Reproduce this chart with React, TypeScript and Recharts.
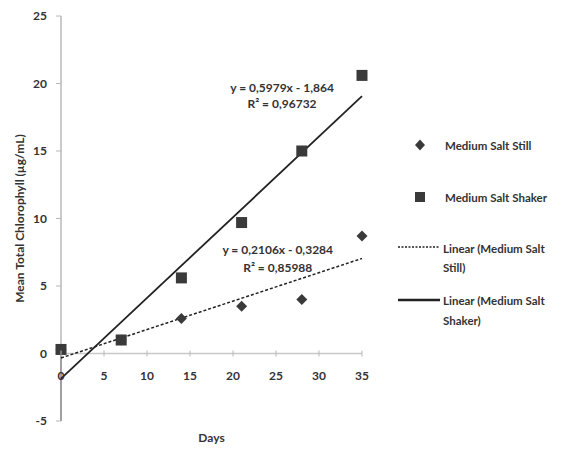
import {
  Legend,
  ReferenceDot,
  ReferenceLine,
  Scatter,
  ScatterChart,
  XAxis,
  YAxis,
} from "recharts";

const DAYS = [0, 7, 14, 21, 28, 35];
const STILL = [0.3, 1.0, 2.6, 3.5, 4.0, 8.7];
const SHAKER = [0.3, 1.0, 5.6, 9.7, 15.0, 20.6];

const TREND_DAYS = [0, 35];
const STILL_TREND = [-0.33, 7.04];
const SHAKER_TREND = [-1.86, 19.06];

const X_TICKS = [0, 5, 10, 15, 20, 25, 30, 35];
const Y_TICKS = [-5, 0, 5, 10, 15, 20, 25];

const SHAKER_EQ = ["y = 0,5979x - 1,864", "R² = 0,96732"];
const STILL_EQ = ["y = 0,2106x - 0,3284", "R² = 0,85988"];

const INK = "#333";
const MARK = "#3a3a3a";
const AXIS = "#b8b8b8";
const FONT = "Lato, 'Open Sans', sans-serif";

const W = 579;
const H = 452;
const MARGIN = { top: 16, right: 217, bottom: 0, left: 0 };
const X_AXIS_H = 31;
const PLOT_H = H - MARGIN.top - MARGIN.bottom - X_AXIS_H;
const Y_MIN = -5;
const Y_MAX = 25;
// distance from the plot bottom up to the y = 0 line
const ZERO_OFFSET = (PLOT_H * (0 - Y_MIN)) / (Y_MAX - Y_MIN);

const stillData = DAYS.map((d, i) => ({ day: d, v: STILL[i] }));
const shakerData = DAYS.map((d, i) => ({ day: d, v: SHAKER[i] }));
const stillTrend = TREND_DAYS.map((d, i) => ({ day: d, v: STILL_TREND[i] }));
const shakerTrend = TREND_DAYS.map((d, i) => ({ day: d, v: SHAKER_TREND[i] }));

const Square = (p: any) => (
  <rect x={p.cx - 5.5} y={p.cy - 5.5} width={11} height={11} fill={MARK} />
);
const Diamond = (p: any) => (
  <path
    d={`M${p.cx},${p.cy - 5.5} L${p.cx + 5.5},${p.cy} L${p.cx},${p.cy + 5.5} L${p.cx - 5.5},${p.cy} Z`}
    fill={MARK}
  />
);
const NoDot = () => null;

function XTick(props: any) {
  const { x, y, payload } = props;
  const zy = y - ZERO_OFFSET;
  return (
    <g>
      <line x1={x} x2={x} y1={zy - 3} y2={zy + 3} stroke={AXIS} />
      <text
        x={x}
        y={zy + 22}
        textAnchor="middle"
        dominantBaseline="central"
        fontFamily={FONT}
        fontWeight={700}
        fontSize={12}
        fill={INK}
      >
        {payload.value}
      </text>
    </g>
  );
}

function EqLabel(props: any) {
  const { viewBox, value } = props;
  return (
    <text
      x={viewBox.cx ?? viewBox.x}
      y={viewBox.cy ?? viewBox.y}
      textAnchor="middle"
      dominantBaseline="central"
      fontFamily={FONT}
      fontWeight={700}
      fontSize={12}
      fill={INK}
    >
      {value}
    </text>
  );
}

function LegendBox() {
  const txt = { fontFamily: FONT, fontWeight: 700, fontSize: 11.5, fill: INK } as const;
  return (
    <svg width={199} height={220}>
      <path d="M40,19.5 L45,25 L40,30.5 L35,25 Z" fill={MARK} />
      <text x={65} y={25} dominantBaseline="central" {...txt}>Medium Salt Still</text>
      <rect x={35} y={72} width={10} height={10} fill={MARK} />
      <text x={65} y={77} dominantBaseline="central" {...txt}>Medium Salt Shaker</text>
      <line x1={18} x2={60} y1={127} y2={127} stroke="#222" strokeWidth={1.5} strokeDasharray="2 1.5" />
      <text x={63} y={128} dominantBaseline="central" {...txt}>Linear (Medium Salt</text>
      <text x={63} y={147} dominantBaseline="central" {...txt}>Still)</text>
      <line x1={18} x2={60} y1={180} y2={180} stroke="#222" strokeWidth={2.5} />
      <text x={63} y={180} dominantBaseline="central" {...txt}>Linear (Medium Salt</text>
      <text x={63} y={200} dominantBaseline="central" {...txt}>Shaker)</text>
    </svg>
  );
}

export default function App() {
  return (
    <div style={{ position: "absolute", left: 0, top: 0, background: "#fff" }}>
      <ScatterChart width={W} height={H} margin={MARGIN}>
        <XAxis
          type="number"
          dataKey="day"
          domain={[0, 35]}
          ticks={X_TICKS}
          height={X_AXIS_H}
          axisLine={false}
          tickLine={false}
          tickSize={0}
          tickMargin={0}
          tick={<XTick />}
          label={{
            value: "Days",
            position: "insideBottom",
            offset: 10,
            fontFamily: FONT,
            fontWeight: 700,
            fontSize: 12,
            fill: INK,
          }}
        />
        <YAxis
          type="number"
          dataKey="v"
          domain={[Y_MIN, Y_MAX]}
          ticks={Y_TICKS}
          width={61}
          axisLine={{ stroke: AXIS, strokeWidth: 1.5 }}
          tickLine={{ stroke: AXIS }}
          tickSize={5}
          tickMargin={9}
          tick={{ fontFamily: FONT, fontWeight: 700, fontSize: 12, fill: INK }}
          label={{
            value: "Mean Total Chlorophyll (µg/mL)",
            angle: -90,
            position: "insideLeft",
            offset: 20,
            style: { textAnchor: "middle" },
            fontFamily: FONT,
            fontWeight: 700,
            fontSize: 12,
            fill: INK,
          }}
        />
        <ReferenceLine y={0} stroke="#c8c8c8" strokeWidth={1.5} />
        <ReferenceLine
          segment={[
            { x: 0, y: 0 },
            { x: 0, y: Y_MIN },
          ]}
          stroke="#222"
          strokeWidth={1.5}
        />
        <Legend
          layout="vertical"
          align="center"
          verticalAlign="middle"
          wrapperStyle={{ left: 380, top: 120, width: 199 }}
          content={() => <LegendBox />}
        />
        <Scatter
          name="Linear (Medium Salt Still)"
          data={stillTrend}
          line={{ stroke: "#222", strokeWidth: 1.5, strokeDasharray: "3 2" }}
          shape={NoDot}
          legendType="none"
          isAnimationActive={false}
        />
        <Scatter
          name="Linear (Medium Salt Shaker)"
          data={shakerTrend}
          line={{ stroke: "#222", strokeWidth: 1.8 }}
          shape={NoDot}
          legendType="none"
          isAnimationActive={false}
        />
        <Scatter name="Medium Salt Still" data={stillData} shape={Diamond} isAnimationActive={false} />
        <Scatter name="Medium Salt Shaker" data={shakerData} shape={Square} isAnimationActive={false} />
        <ReferenceDot x={25.7} y={19.7} r={0} label={<EqLabel value={SHAKER_EQ[0]} />} />
        <ReferenceDot x={25.7} y={18.5} r={0} label={<EqLabel value={SHAKER_EQ[1]} />} />
        <ReferenceDot x={25.2} y={7.7} r={0} label={<EqLabel value={STILL_EQ[0]} />} />
        <ReferenceDot x={25.2} y={6.4} r={0} label={<EqLabel value={STILL_EQ[1]} />} />
      </ScatterChart>
    </div>
  );
}
